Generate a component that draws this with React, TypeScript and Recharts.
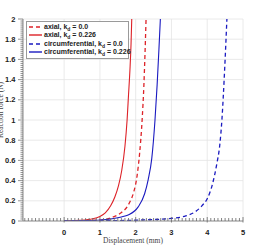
import React from "react";
import { LineChart, Line, XAxis, YAxis, ReferenceLine, Legend } from "recharts";

const axialKd0X = [0, 0.5, 1.1, 1.3, 1.57, 1.76, 1.84, 1.94, 2.04, 2.11, 2.18, 2.23, 2.26, 2.29];
const axialKd0Y = [0, 0.003, 0.012, 0.03, 0.076, 0.14, 0.19, 0.28, 0.45, 0.67, 1.0, 1.35, 1.65, 2.0];
const axialKd226X = [0, 0.4, 0.8, 1.0, 1.15, 1.3, 1.42, 1.52, 1.61, 1.7, 1.76, 1.8, 1.84, 1.87, 1.89];
const axialKd226Y = [0, 0.006, 0.022, 0.045, 0.08, 0.15, 0.24, 0.35, 0.5, 0.74, 1.0, 1.25, 1.5, 1.75, 2.0];
const circKd0X = [0, 1.0, 2.17, 3.0, 3.4, 3.66, 3.85, 4.0, 4.15, 4.27, 4.35, 4.41, 4.48, 4.55];
const circKd0Y = [0, 0.002, 0.01, 0.027, 0.05, 0.09, 0.15, 0.22, 0.37, 0.57, 0.75, 1.0, 1.45, 2.0];
const circKd226X = [0, 0.6, 1.0, 1.3, 1.6, 1.79, 2.07, 2.25, 2.35, 2.45, 2.54, 2.6, 2.65, 2.69];
const circKd226Y = [0, 0.004, 0.01, 0.02, 0.04, 0.06, 0.14, 0.27, 0.41, 0.62, 1.0, 1.35, 1.7, 2.0];

const xMajorTicks = [0, 1, 2, 3, 4, 5];
const yMajorTicks = [0.2, 0.4, 0.6, 0.8, 1, 1.2, 1.4, 1.6, 1.8, 2];
const xDomain: [number, number] = [-1.15, 5];
const yDomain: [number, number] = [0, 2];

const xMinorTicks: number[] = [];
for (let i = -11; i <= 50; i++) xMinorTicks.push(i / 10);
const yMinorTicks: number[] = [];
for (let i = 0; i <= 100; i++) yMinorTicks.push(i / 50);

const zip = (xs: number[], ys: number[]) => xs.map((x, i) => ({ x, y: ys[i] }));

const RED = "#dd2228";
const BLUE = "#1a1ac0";

const series = [
  { key: "a0", name: "axial, k", sub: "d", val: " = 0.0", data: zip(axialKd0X, axialKd0Y), color: RED, dash: "4 3" },
  { key: "a1", name: "axial, k", sub: "d", val: " = 0.226", data: zip(axialKd226X, axialKd226Y), color: RED, dash: undefined },
  { key: "c0", name: "circumferential, k", sub: "d", val: " = 0.0", data: zip(circKd0X, circKd0Y), color: BLUE, dash: "4 3" },
  { key: "c1", name: "circumferential, k", sub: "d", val: " = 0.226", data: zip(circKd226X, circKd226Y), color: BLUE, dash: undefined },
];

const isNear = (v: number, arr: number[]) => arr.some((a) => Math.abs(a - v) < 1e-6);

const XTick = (props: any) => {
  const { x, y, payload } = props;
  const v = payload.value;
  const major = isNear(v, xMajorTicks);
  return (
    <g>
      <line x1={x} x2={x} y1={y - (major ? 4 : 3)} y2={y + (major ? 1.5 : 0)} stroke="#666" strokeWidth={0.8} />
      {major && (
        <text x={x} y={y + 13.5} textAnchor="middle" fontFamily="Liberation Sans, Arial, sans-serif" fontWeight="bold" fontSize={7.5} fill="#222">
          {String(v)}
        </text>
      )}
    </g>
  );
};

const YTick = (props: any) => {
  const { x, y, payload } = props;
  const v = payload.value;
  const major = isNear(v, yMajorTicks) || Math.abs(v) < 1e-9;
  return (
    <g>
      <line x1={x - (major ? 5 : 2.5)} x2={x} y1={y} y2={y} stroke="#666" strokeWidth={0.7} />
      {major && (
        <text x={x - 7.5} y={y + 2.6} textAnchor="end" fontFamily="Liberation Sans, Arial, sans-serif" fontWeight="bold" fontSize={7.5} fill="#222">
          {String(Math.round(v * 10) / 10)}
        </text>
      )}
    </g>
  );
};

const LegendContent = () => (
  <div
    style={{
      background: "#fff",
      border: "1px solid #9a9a9a",
      padding: "1px 2px 2px 2px",
      fontFamily: "Liberation Sans, Arial, sans-serif",
      fontWeight: "bold",
      fontSize: 7,
      color: "#222",
      lineHeight: "8.3px",
      width: 97,
      boxSizing: "content-box",
    }}
  >
    {series.map((s) => (
      <div key={s.key} style={{ display: "flex", alignItems: "center", height: 8.3, whiteSpace: "nowrap" }}>
        <svg width={13} height={6} style={{ marginRight: 2, flex: "none" }}>
          <line x1={0} x2={13} y1={3} y2={3} stroke={s.color} strokeWidth={1.4} strokeDasharray={s.dash} />
        </svg>
        <span>
          {s.name}
          <sub style={{ fontSize: 5, verticalAlign: "-1.5px", lineHeight: 0 }}>{s.sub}</sub>
          {s.val}
        </span>
      </div>
    ))}
  </div>
);

export default function App() {
  return (
    <div style={{ position: "absolute", left: 0, top: 0, width: 256, height: 249, background: "#fff" }}>
      <LineChart width={256} height={249} margin={{ top: 19, right: 13, bottom: 0, left: 0 }}>
        {xMajorTicks.map((v) => (
          <ReferenceLine key={"gx" + v} x={v} stroke="#e4e4e4" strokeWidth={0.8} />
        ))}
        {yMajorTicks.map((v) => (
          <ReferenceLine key={"gy" + v} y={v} stroke="#e4e4e4" strokeWidth={0.8} />
        ))}
        <XAxis
          type="number"
          dataKey="x"
          domain={xDomain}
          ticks={xMinorTicks}
          interval={0}
          allowDataOverflow
          height={28}
          tickSize={0}
          tickMargin={0}
          tickLine={false}
          axisLine={{ stroke: "#888", strokeWidth: 1 }}
          tick={<XTick />}
          label={{
            content: (p: any) => {
              const vb = p.viewBox;
              return (
                <text x={vb.x + vb.width / 2} y={vb.y + 22} textAnchor="middle" fontFamily="Liberation Serif, Times New Roman, serif" fontSize={7.5} fill="#444">
                  Displacement (mm)
                </text>
              );
            },
          }}
        />
        <YAxis
          type="number"
          dataKey="y"
          domain={yDomain}
          ticks={yMinorTicks}
          interval={0}
          allowDataOverflow
          width={23}
          tickSize={0}
          tickMargin={0}
          tickLine={false}
          axisLine={{ stroke: "#888", strokeWidth: 1 }}
          tick={<YTick />}
          label={{
            content: (p: any) => {
              const vb = p.viewBox;
              const cx = 2.5;
              const cy = vb.y + vb.height / 2 - 10;
              return (
                <text x={cx} y={cy} transform={`rotate(-90 ${cx} ${cy})`} textAnchor="middle" fontFamily="Liberation Serif, Times New Roman, serif" fontSize={7.5} fill="#444">
                  Reaction force (N)
                </text>
              );
            },
          }}
        />
        {series.map((s) => (
          <Line
            key={s.key}
            data={s.data}
            dataKey="y"
            name={s.name + s.sub + s.val}
            type="monotone"
            stroke={s.color}
            strokeWidth={s.dash ? 1.3 : 1.1}
            strokeDasharray={s.dash}
            dot={false}
            activeDot={false}
            isAnimationActive={false}
          />
        ))}
        <Legend
          layout="vertical"
          align="center"
          verticalAlign="middle"
          content={<LegendContent />}
          wrapperStyle={{ position: "absolute", left: 26, top: 21, width: "auto" }}
        />
      </LineChart>
    </div>
  );
}
